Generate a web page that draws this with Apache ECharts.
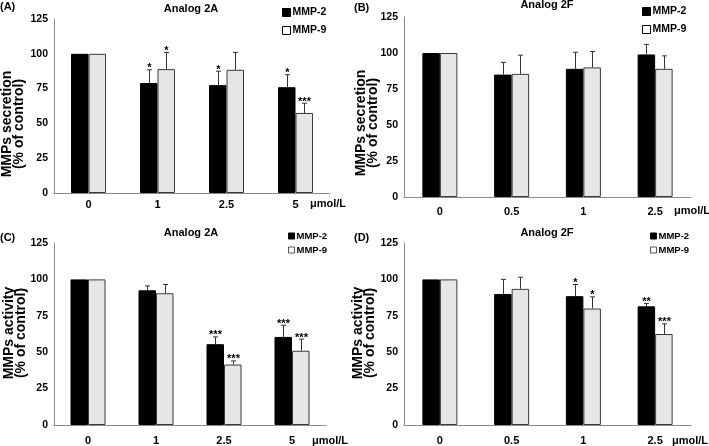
<!DOCTYPE html>
<html>
<head>
<meta charset="utf-8">
<script src="https://cdn.jsdelivr.net/npm/echarts@6/dist/echarts.min.js"></script>
<style>html,body{margin:0;padding:0;background:#fff;}#c{width:709px;height:446px;}</style>
</head>
<body>
<div id="c"></div>
<script>
// ---------- data ----------
const seriesNames = ['MMP-2', 'MMP-9'];
const yTicks = [0, 25, 50, 75, 100, 125];

// (A) Analog 2A – secretion
const catsA = ['0', '1', '2.5', '5'];
const mmp2A = [100, 79, 77.5, 76];
const mmp2SdA = [0, 9.5, 10, 9];
const mmp9A = [100, 89, 88.5, 57.5];
const mmp9SdA = [0, 12, 12.5, 7];
const stars2A = ['', '*', '*', '*'];
const stars9A = ['', '*', '', '***'];

// (B) Analog 2F – secretion
const catsB = ['0', '0.5', '1', '2.5'];
const mmp2B = [100, 85, 89, 99];
const mmp2SdB = [0, 8.5, 11.5, 7];
const mmp9B = [100, 85.5, 90, 89];
const mmp9SdB = [0, 13, 11, 9];
const stars2B = ['', '', '', ''];
const stars9B = ['', '', '', ''];

// (C) Analog 2A – activity
const catsC = ['0', '1', '2.5', '5'];
const mmp2C = [100, 92.5, 55.5, 60.5];
const mmp2SdC = [0, 3, 5, 8];
const mmp9C = [100, 90.5, 41.5, 51];
const mmp9SdC = [0, 6, 2.5, 8];
const stars2C = ['', '', '***', '***'];
const stars9C = ['', '', '***', '***'];

// (D) Analog 2F – activity
const catsD = ['0', '0.5', '1', '2.5'];
const mmp2D = [100, 90, 88.5, 81.5];
const mmp2SdD = [0, 10, 8, 2];
const mmp9D = [100, 93.5, 80, 62.5];
const mmp9SdD = [0, 8, 8, 7];
const stars2D = ['', '', '*', '**'];
const stars9D = ['', '', '*', '***'];

const titles = ['Analog 2A', 'Analog 2F', 'Analog 2A', 'Analog 2F'];
const letters = ['(A)', '(B)', '(C)', '(D)'];
const yNames = ['MMPs secretion\n(% of control)', 'MMPs secretion\n(% of control)',
                'MMPs activity\n(% of control)', 'MMPs activity\n(% of control)'];
const unitLabel = 'μmol/L';

// ---------- layout ----------
const BW = 17.5;
const FONT = '"Liberation Sans", Arial, sans-serif';
const layout = [
  {grid: {left: 54, top: 19, width: 276, height: 174}, labelMargin: 6, title: [191, 9], letter: [0, 7], yName: [13, 124], unit: [328, 204], legend: {left: 277, top: 2, gap: 7, size: 8, font: 10.5}},
  {grid: {left: 404, top: 17, width: 287, height: 180}, labelMargin: 9, title: [547, 5], letter: [354, 8], yName: [367, 123], unit: [692, 211], legend: {left: 637, top: 1, gap: 7, size: 8, font: 10.5}},
  {grid: {left: 54, top: 243, width: 272, height: 182}, labelMargin: 10, title: [191, 233], letter: [0, 238], yName: [15, 333], unit: [330, 441], legend: {left: 283, top: 226, gap: 4, size: 6, font: 9.5}},
  {grid: {left: 404, top: 243, width: 287, height: 182}, labelMargin: 10, title: [547, 233], letter: [354, 238], yName: [364, 333], unit: [690, 441], legend: {left: 645, top: 226, gap: 4, size: 6, font: 9.5}}
];
const panelData = [
  {cats: catsA, v: [mmp2A, mmp9A], sd: [mmp2SdA, mmp9SdA], st: [stars2A, stars9A]},
  {cats: catsB, v: [mmp2B, mmp9B], sd: [mmp2SdB, mmp9SdB], st: [stars2B, stars9B]},
  {cats: catsC, v: [mmp2C, mmp9C], sd: [mmp2SdC, mmp9SdC], st: [stars2C, stars9C]},
  {cats: catsD, v: [mmp2D, mmp9D], sd: [mmp2SdD, mmp9SdD], st: [stars2D, stars9D]}
];

const barStyles = [
  {color: '#000000', borderColor: '#000000', borderWidth: 1},
  {color: '#e6e6e6', borderColor: '#3a3a3a', borderWidth: 1}
];

function errSeries(gi, vals, sds, stars, side) {
  return {
    type: 'custom', xAxisIndex: gi, yAxisIndex: gi, silent: true, z: 5,
    data: vals.map((v, i) => [i, v, sds[i]]),
    renderItem: function (params, api) {
      const i = api.value(0), v = api.value(1), sd = api.value(2);
      const base = api.coord([i, v]);
      const top = api.coord([i, v + sd]);
      const x = Math.round(base[0] + side * BW / 2) + 0.5;
      const children = [];
      if (sd > 0) {
        children.push({type: 'line', shape: {x1: x, y1: base[1], x2: x, y2: top[1]}, style: {stroke: '#333', lineWidth: 1}});
        children.push({type: 'line', shape: {x1: x - 2.5, y1: top[1], x2: x + 2.5, y2: top[1]}, style: {stroke: '#333', lineWidth: 1}});
      }
      const s = stars[params.dataIndex];
      if (s) {
        children.push({type: 'text', x: x, y: top[1] - 7,
          style: {text: s, font: 'bold 11px ' + FONT, fill: '#000', align: 'center', verticalAlign: 'top'}});
      }
      return {type: 'group', children: children};
    }
  };
}

const grid = [], xAxis = [], yAxis = [], series = [], legend = [], graphic = [];
layout.forEach((L, gi) => {
  const P = panelData[gi];
  grid.push(L.grid);
  xAxis.push({
    type: 'category', gridIndex: gi, data: P.cats,
    axisLine: {show: true, lineStyle: {color: '#8a8a8a', width: 1}},
    axisTick: {show: false},
    axisLabel: {margin: L.labelMargin, color: '#000', fontWeight: 'bold', fontSize: 11, fontFamily: FONT},
    splitLine: {show: false}
  });
  yAxis.push({
    type: 'value', gridIndex: gi, min: yTicks[0], max: yTicks[yTicks.length - 1], interval: 25,
    axisLine: {show: true, lineStyle: {color: '#8a8a8a', width: 1}},
    axisTick: {show: false},
    axisLabel: {margin: 6, color: '#000', fontWeight: 'bold', fontSize: 10.5, fontFamily: FONT},
    splitLine: {show: false}
  });
  [0, 1].forEach(k => {
    series.push({
      type: 'bar', name: seriesNames[k], xAxisIndex: gi, yAxisIndex: gi,
      data: P.v[k], barWidth: BW, barGap: '0%',
      itemStyle: barStyles[k], silent: true
    });
  });
  [0, 1].forEach(k => {
    series.push(errSeries(gi, P.v[k], P.sd[k], P.st[k], k === 0 ? -1 : 1));
  });
  const lg = L.legend;
  legend.push({
    orient: 'vertical', left: lg.left, top: lg.top, itemGap: lg.gap,
    itemWidth: lg.size, itemHeight: lg.size, icon: 'rect', selectedMode: false,
    textStyle: {color: '#000', fontWeight: 'bold', fontSize: lg.font, fontFamily: FONT, padding: [0, 0, 0, -3]},
    data: [
      {name: seriesNames[0], itemStyle: {color: '#000', borderColor: '#000', borderWidth: 1}},
      {name: seriesNames[1], itemStyle: {color: '#fff', borderColor: gi < 2 ? '#000' : '#555', borderWidth: 1}}
    ]
  });
  graphic.push({type: 'text', x: L.title[0], y: L.title[1],
    style: {text: titles[gi], font: 'bold 11px ' + FONT, fill: '#000', align: 'center', verticalAlign: 'middle'}});
  graphic.push({type: 'text', x: L.letter[0], y: L.letter[1],
    style: {text: letters[gi], font: 'bold 11px ' + FONT, fill: '#000', align: 'left', verticalAlign: 'middle'}});
  graphic.push({type: 'text', x: L.yName[0], y: L.yName[1], rotation: Math.PI / 2,
    style: {text: yNames[gi], font: 'bold 14px ' + FONT, lineHeight: 12, fill: '#000', align: 'center', verticalAlign: 'middle'}});
  graphic.push({type: 'text', x: L.unit[0], y: L.unit[1],
    style: {text: unitLabel, font: 'bold 11px ' + FONT, fill: '#000', align: 'center', verticalAlign: 'middle'}});
});

const chart = echarts.init(document.getElementById('c'), null, {renderer: 'canvas'});
chart.setOption({
  animation: false,
  backgroundColor: '#fff',
  grid: grid, xAxis: xAxis, yAxis: yAxis, series: series, legend: legend, graphic: graphic
});
</script>
</body>
</html>
